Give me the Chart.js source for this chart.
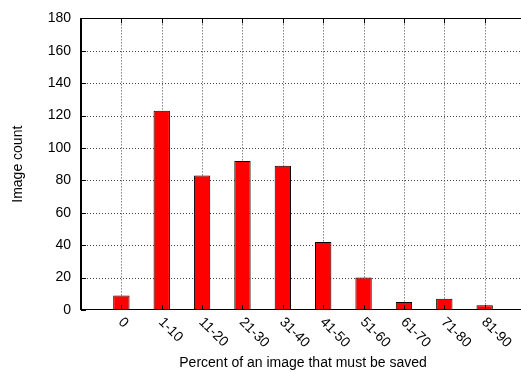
<!DOCTYPE html>
<html>
<head>
<meta charset="utf-8">
<script src="https://cdn.jsdelivr.net/npm/chart.js@4/dist/chart.umd.min.js"></script>
<style>
  html, body { margin: 0; padding: 0; overflow: hidden; background: #fff; }
  #wrap { width: 521px; height: 372px; position: relative; }
</style>
</head>
<body>
<div id="wrap"><canvas id="c"></canvas></div>
<script>
// Histogram data
const categories = ['0', '1-10', '11-20', '21-30', '31-40', '41-50', '51-60', '61-70', '71-80', '81-90'];
const imageCounts = [9, 123, 83, 92, 89, 42, 20, 5, 7, 3];
const yTicks = [0, 20, 40, 60, 80, 100, 120, 140, 160, 180];
const xTitle = 'Percent of an image that must be saved';
const yTitle = 'Image count';

const FONT = "'Liberation Sans', Arial, Helvetica, sans-serif";

// x range runs from -1 to 10; the visible canvas stops just short of 10
const X_MIN = -1, X_FULL_MAX = 10, X_VISIBLE_MAX = 9.9;

// Grid, frame, tick marks, rotated category labels and x title
const framePlugin = {
  id: 'frame',
  beforeDatasetsDraw(chart) {
    const { ctx, chartArea: a, scales: { x, y } } = chart;
    ctx.save();
    ctx.strokeStyle = '#444';
    ctx.lineWidth = 1;
    ctx.setLineDash([1, 2]);
    ctx.beginPath();
    categories.forEach((c, i) => {
      const px = Math.round(x.getPixelForValue(i)) + 0.5;
      ctx.moveTo(px, a.top);
      ctx.lineTo(px, a.bottom);
    });
    yTicks.forEach(v => {
      if (v <= yTicks[0] || v >= yTicks[yTicks.length - 1]) return;
      const py = Math.round(y.getPixelForValue(v)) + 0.5;
      ctx.moveTo(a.left, py);
      ctx.lineTo(a.right, py);
    });
    ctx.stroke();
    ctx.restore();
  },
  afterDatasetsDraw(chart) {
    const { ctx, chartArea: a, scales: { x, y } } = chart;
    ctx.save();
    ctx.setLineDash([]);
    ctx.strokeStyle = '#000';
    ctx.lineWidth = 1;
    ctx.beginPath();
    // inward tick marks
    categories.forEach((c, i) => {
      const px = Math.round(x.getPixelForValue(i)) + 0.5;
      ctx.moveTo(px, a.top);
      ctx.lineTo(px, a.top + 5);
      ctx.moveTo(px, a.bottom);
      ctx.lineTo(px, a.bottom - 5);
    });
    yTicks.forEach(v => {
      const py = Math.round(y.getPixelForValue(v)) + 0.5;
      ctx.moveTo(a.left, py);
      ctx.lineTo(a.left + 5, py);
    });
    // top and bottom borders
    const t = Math.round(a.top) + 0.5, b = Math.round(a.bottom) - 0.5;
    ctx.moveTo(a.left, t); ctx.lineTo(a.right, t);
    ctx.moveTo(a.left, b); ctx.lineTo(a.right, b);
    ctx.stroke();
    // left border
    ctx.fillStyle = '#000';
    ctx.fillRect(Math.round(a.left) - 1, Math.round(a.top), 2, Math.round(a.bottom - a.top));

    // category labels, rotated clockwise and starting at the tick
    ctx.font = '14px ' + FONT;
    ctx.fillStyle = '#000';
    ctx.textAlign = 'left';
    ctx.textBaseline = 'middle';
    categories.forEach((c, i) => {
      const px = x.getPixelForValue(i);
      ctx.save();
      ctx.translate(px - 1, a.bottom + 10);
      ctx.rotate(Math.PI / 4);
      ctx.fillText(c, 0, 0);
      ctx.restore();
    });

    // x axis title, centred on the full -1..10 range
    ctx.textAlign = 'center';
    ctx.fillText(xTitle, x.getPixelForValue((X_MIN + X_FULL_MAX) / 2), 363.5);
    ctx.restore();
  }
};

new Chart(document.getElementById('c'), {
  type: 'bar',
  data: {
    datasets: [{
      data: imageCounts.map((v, i) => ({ x: i, y: v })),
      backgroundColor: '#ff0000',
      borderColor: '#000',
      borderWidth: 1,
      barPercentage: 0.45,
      categoryPercentage: 1.0
    }]
  },
  options: {
    responsive: true,
    maintainAspectRatio: false,
    animation: false,
    events: [],
    layout: { padding: { top: 11, right: 0, left: 0, bottom: 0 } },
    plugins: { legend: { display: false }, tooltip: { enabled: false } },
    scales: {
      x: {
        type: 'linear',
        offset: false,
        min: X_MIN,
        max: X_VISIBLE_MAX,
        grid: { display: false },
        border: { display: false },
        ticks: { display: false, stepSize: 1 },
        title: { display: false },
        afterFit(scale) { scale.height = 62; }
      },
      y: {
        min: yTicks[0],
        max: yTicks[yTicks.length - 1],
        afterBuildTicks(scale) { scale.ticks = yTicks.map(v => ({ value: v })); },
        grid: { display: false, drawTicks: false },
        border: { display: false },
        ticks: {
          color: '#000',
          padding: 10,
          font: { family: FONT, size: 14 }
        },
        title: {
          display: true,
          text: yTitle,
          color: '#000',
          font: { family: FONT, size: 14 },
          padding: { top: 10, bottom: 0 }
        },
        afterFit(scale) { scale.width = 81; }
      }
    }
  },
  plugins: [framePlugin]
});
</script>
</body>
</html>
